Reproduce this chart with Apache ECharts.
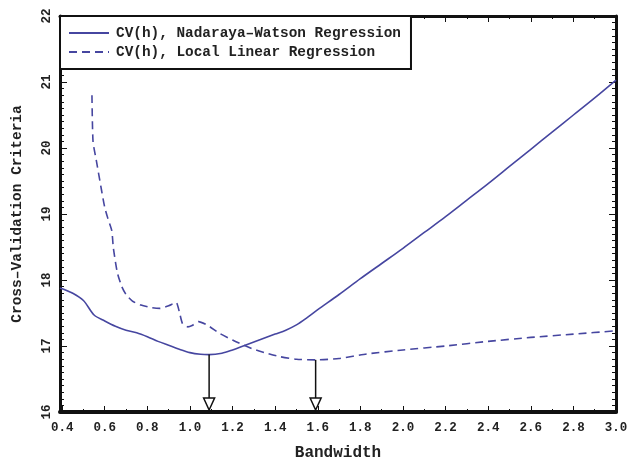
<!DOCTYPE html>
<html>
<head>
<meta charset="utf-8">
<script src="https://cdn.jsdelivr.net/npm/echarts@6/dist/echarts.min.js"></script>
<style>
  html, body { margin: 0; padding: 0; background: #fff; }
  #chart { width: 628px; height: 462px; }
</style>
</head>
<body>
<div id="chart"></div>
<script>
// Cross-validation criterion CV(h) against bandwidth h
const nwBandwidth = [0.39, 0.45, 0.50, 0.55, 0.60, 0.65, 0.70, 0.75, 0.80, 0.85, 0.90, 0.95, 1.00, 1.05, 1.09, 1.15, 1.20, 1.25, 1.30, 1.35, 1.40, 1.45, 1.50, 1.55, 1.60, 1.70, 1.80, 1.90, 2.00, 2.10, 2.20, 2.30, 2.40, 2.50, 2.60, 2.70, 2.80, 2.90, 3.00];
const nwCV = [17.88, 17.80, 17.69, 17.47, 17.38, 17.30, 17.24, 17.20, 17.14, 17.07, 17.01, 16.95, 16.90, 16.875, 16.87, 16.89, 16.94, 17.00, 17.06, 17.12, 17.18, 17.24, 17.32, 17.43, 17.55, 17.78, 18.02, 18.25, 18.48, 18.72, 18.96, 19.21, 19.46, 19.72, 19.98, 20.24, 20.50, 20.76, 21.03];

const llBandwidth = [0.54, 0.545, 0.56, 0.585, 0.60, 0.615, 0.633, 0.64, 0.65, 0.66, 0.68, 0.70, 0.73, 0.77, 0.82, 0.86, 0.90, 0.935, 0.95, 0.965, 0.99, 1.01, 1.04, 1.08, 1.14, 1.20, 1.24, 1.30, 1.35, 1.42, 1.50, 1.59, 1.70, 1.83, 2.00, 2.20, 2.40, 2.60, 2.80, 3.00];
const llCV = [20.80, 20.10, 19.82, 19.36, 19.10, 18.93, 18.75, 18.50, 18.28, 18.10, 17.90, 17.78, 17.68, 17.62, 17.58, 17.57, 17.61, 17.66, 17.52, 17.34, 17.29, 17.31, 17.37, 17.32, 17.19, 17.09, 17.03, 16.95, 16.90, 16.84, 16.80, 16.79, 16.81, 16.88, 16.94, 17.00, 17.07, 17.13, 17.18, 17.23];

// Minimising bandwidths and their CV values
const optBandwidth = [1.09, 1.59];
const optCV = [16.87, 16.79];

const xTickLabels = [0.4, 0.6, 0.8, 1.0, 1.2, 1.4, 1.6, 1.8, 2.0, 2.2, 2.4, 2.6, 2.8, 3.0];
const xMinorTicks = [];
for (let v = 4; v <= 30; v++) xMinorTicks.push(v / 10);

const seriesNames = ['CV(h), Nadaraya\u2013Watson Regression', 'CV(h), Local Linear Regression'];

const lineColor = '#4646a0';
const ink = '#111';
const monoFont = '"Liberation Mono", "DejaVu Sans Mono", monospace';

const pairs = (xs, ys) => xs.map((x, i) => [x, ys[i]]);

const X_MIN = 0.39, X_MAX = 3.0;

function xAxisBase(pos, extra) {
  return Object.assign({
    type: 'value', position: pos, min: X_MIN, max: X_MAX,
    gridIndex: 0, splitLine: { show: false },
    axisLine: { show: false }, axisLabel: { show: false },
    axisTick: { show: false }
  }, extra);
}

const chart = echarts.init(document.getElementById('chart'), null, { renderer: 'canvas' });

chart.setOption({
  animation: false,
  backgroundColor: '#fff',
  grid: { left: 60, top: 16, width: 556, height: 396, show: false, containLabel: false, outerBoundsMode: 'none' },
  legend: {
    orient: 'vertical', left: 60, top: 16,
    padding: [10, 10, 10, 8],
    itemWidth: 40, itemHeight: 14, itemGap: 5,
    backgroundColor: '#fff', borderColor: ink, borderWidth: 2,
    itemStyle: { opacity: 0 },
    textStyle: { fontFamily: monoFont, fontWeight: 'bold', fontSize: 14.4, color: '#222', padding: [0, 0, 0, 2] },
    data: seriesNames, z: 10
  },
  xAxis: [
    xAxisBase('bottom', {
      name: 'Bandwidth', nameLocation: 'middle', nameGap: 33,
      nameTextStyle: { fontFamily: monoFont, fontWeight: 'bold', fontSize: 16, color: '#222' },
      axisLine: { show: true, onZero: false, lineStyle: { color: ink, width: 4 } },
      axisTick: { show: true, inside: true, length: 6, customValues: xTickLabels, lineStyle: { color: ink, width: 1 } },
      axisLabel: { show: true, customValues: xTickLabels, margin: 9, formatter: v => v.toFixed(1),
        fontFamily: monoFont, fontWeight: 'bold', fontSize: 12.5, color: '#222' }
    }),
    xAxisBase('bottom', {
      axisTick: { show: true, inside: true, length: 3, customValues: xMinorTicks, lineStyle: { color: ink, width: 1 } }
    }),
    xAxisBase('top', {
      axisLine: { show: true, onZero: false, lineStyle: { color: ink, width: 3 } },
      axisTick: { show: true, inside: true, length: 6, customValues: xTickLabels, lineStyle: { color: ink, width: 1 } }
    }),
    xAxisBase('top', {
      axisTick: { show: true, inside: true, length: 3, customValues: xMinorTicks, lineStyle: { color: ink, width: 1 } }
    })
  ],
  yAxis: [
    {
      type: 'value', position: 'left', min: 16, max: 22, interval: 1,
      name: 'Cross\u2013Validation Criteria', nameLocation: 'middle', nameGap: 35,
      nameTextStyle: { fontFamily: monoFont, fontWeight: 'bold', fontSize: 14.5, color: '#222' },
      splitLine: { show: false },
      axisLine: { show: true, onZero: false, lineStyle: { color: ink, width: 3 } },
      axisTick: { show: true, inside: true, length: 7, lineStyle: { color: ink, width: 1 } },
      minorTick: { show: true, splitNumber: 10, length: 4, lineStyle: { color: ink, width: 1 } },
      axisLabel: { rotate: 90, margin: 7, fontFamily: monoFont, fontWeight: 'bold', fontSize: 12.5, color: '#222' }
    },
    {
      type: 'value', position: 'right', min: 16, max: 22, interval: 1,
      splitLine: { show: false },
      axisLine: { show: true, onZero: false, lineStyle: { color: ink, width: 3 } },
      axisTick: { show: true, inside: true, length: 7, lineStyle: { color: ink, width: 1 } },
      minorTick: { show: true, splitNumber: 10, length: 4, lineStyle: { color: ink, width: 1 } },
      axisLabel: { show: false }
    }
  ],
  series: [
    {
      name: seriesNames[0], type: 'line', xAxisIndex: 0, yAxisIndex: 0,
      data: pairs(nwBandwidth, nwCV), showSymbol: false, symbol: 'none', smooth: 0.3,
      lineStyle: { color: lineColor, width: 1.6, type: 'solid' },
      itemStyle: { color: lineColor }, z: 3
    },
    {
      name: seriesNames[1], type: 'line', xAxisIndex: 0, yAxisIndex: 0,
      data: pairs(llBandwidth, llCV), showSymbol: false, symbol: 'none', smooth: 0.2,
      lineStyle: { color: lineColor, width: 1.6, type: [8, 5] },
      itemStyle: { color: lineColor }, z: 3
    },
    {
      // arrows from each minimum down to the bandwidth axis
      type: 'custom', xAxisIndex: 0, yAxisIndex: 0, silent: true, z: 4,
      data: pairs(optBandwidth, optCV),
      renderItem: function (params, api) {
        const top = api.coord([api.value(0), api.value(1)]);
        const base = api.coord([api.value(0), 16]);
        const bottomY = base[1] - 2;
        const headH = 12, headW = 11;
        return {
          type: 'group',
          children: [
            { type: 'line', shape: { x1: top[0], y1: top[1], x2: top[0], y2: bottomY - headH },
              style: { stroke: ink, lineWidth: 1.5 } },
            { type: 'polygon',
              shape: { points: [[top[0] - headW / 2, bottomY - headH], [top[0] + headW / 2, bottomY - headH], [top[0], bottomY]] },
              style: { fill: '#fff', stroke: ink, lineWidth: 1.5 } }
          ]
        };
      }
    }
  ]
});
</script>
</body>
</html>
